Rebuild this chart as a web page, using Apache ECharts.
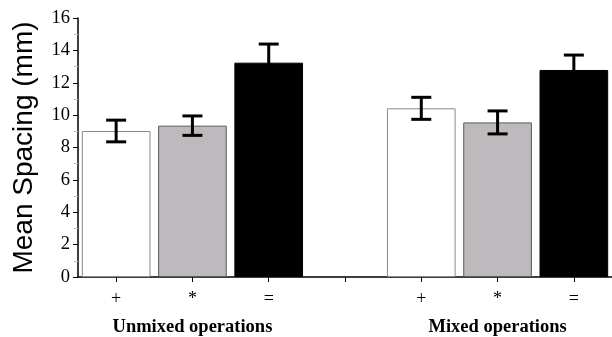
<!DOCTYPE html>
<html>
<head>
<meta charset="utf-8">
<script src="https://cdn.jsdelivr.net/npm/echarts@6/dist/echarts.min.js"></script>
<style>html,body{margin:0;padding:0;background:#fff}#c{width:612px;height:337px}</style>
</head>
<body>
<div id="c"></div>
<script>
var categories = ['+', '*', '=', '', '+', '*', '='];
var groupLabels = ['', 'Unmixed operations', '', '', '', 'Mixed operations', ''];
var means = [9.02, 9.35, 13.24, null, 10.42, 9.55, 12.79];
var errors = [0.67, 0.6, 1.15, null, 0.68, 0.71, 0.92];
var yTicks = [0, 2, 4, 6, 8, 10, 12, 14, 16];

var fills = {'+': '#ffffff', '*': '#bdb9bc', '=': '#000000'};
var borders = {'+': '#8a8a8a', '*': '#5a5a5a', '=': '#000000'};

var barData = means.map(function (v, i) {
  if (v === null) return {value: null};
  var c = categories[i];
  return {value: v, itemStyle: {color: fills[c], borderColor: borders[c], borderWidth: 1}};
});
var errData = [];
means.forEach(function (v, i) {
  if (v !== null) errData.push([i, v - errors[i], v + errors[i]]);
});

var chart = echarts.init(document.getElementById('c'));
chart.setOption({
  animation: false,
  backgroundColor: '#fff',
  grid: {left: 78, right: -5, top: 18, bottom: 60},
  xAxis: [{
    type: 'category',
    data: categories,
    position: 'bottom',
    axisLine: {show: true, lineStyle: {color: '#000', width: 1.5}},
    axisTick: {show: true, alignWithLabel: true, interval: 0, length: 5, lineStyle: {color: '#000'}},
    axisLabel: {interval: 0, margin: 13, color: '#000', fontFamily: 'Liberation Serif', fontSize: 18}
  }, {
    type: 'category',
    data: groupLabels,
    position: 'bottom',
    offset: 0,
    axisLine: {show: false},
    axisTick: {show: false},
    axisLabel: {interval: 0, margin: 41, color: '#000', fontFamily: 'Liberation Serif', fontWeight: 'bold', fontSize: 18.5}
  }],
  yAxis: {
    type: 'value',
    min: 0, max: 16, interval: 2,
    name: 'Mean Spacing (mm)',
    nameLocation: 'middle',
    nameGap: 40,
    nameTextStyle: {fontFamily: 'Liberation Sans', fontSize: 28, color: '#000'},
    axisLine: {show: true, lineStyle: {color: '#000', width: 1.5}},
    axisTick: {show: true, length: 5, lineStyle: {color: '#000'}},
    minorTick: {show: true, splitNumber: 2, length: 4, lineStyle: {color: '#bbb'}},
    splitLine: {show: false},
    axisLabel: {margin: 8, color: '#000', fontFamily: 'Liberation Serif', fontSize: 18.5,
      formatter: function (v) { return yTicks.indexOf(v) >= 0 ? String(v) : ''; }}
  },
  series: [{
    type: 'bar',
    data: barData,
    barWidth: '90%',
    xAxisIndex: 0
  }, {
    type: 'custom',
    xAxisIndex: 0,
    data: errData,
    z: 10,
    renderItem: function (params, api) {
      var x = api.value(0);
      var lo = api.coord([x, api.value(1)]);
      var hi = api.coord([x, api.value(2)]);
      var hw = 10;
      var st = {stroke: '#000', lineWidth: 3};
      return {type: 'group', children: [
        {type: 'line', shape: {x1: hi[0], y1: hi[1], x2: lo[0], y2: lo[1]}, style: st},
        {type: 'line', shape: {x1: hi[0] - hw, y1: hi[1], x2: hi[0] + hw, y2: hi[1]}, style: st},
        {type: 'line', shape: {x1: lo[0] - hw, y1: lo[1], x2: lo[0] + hw, y2: lo[1]}, style: st}
      ]};
    }
  }]
});
</script>
</body>
</html>
